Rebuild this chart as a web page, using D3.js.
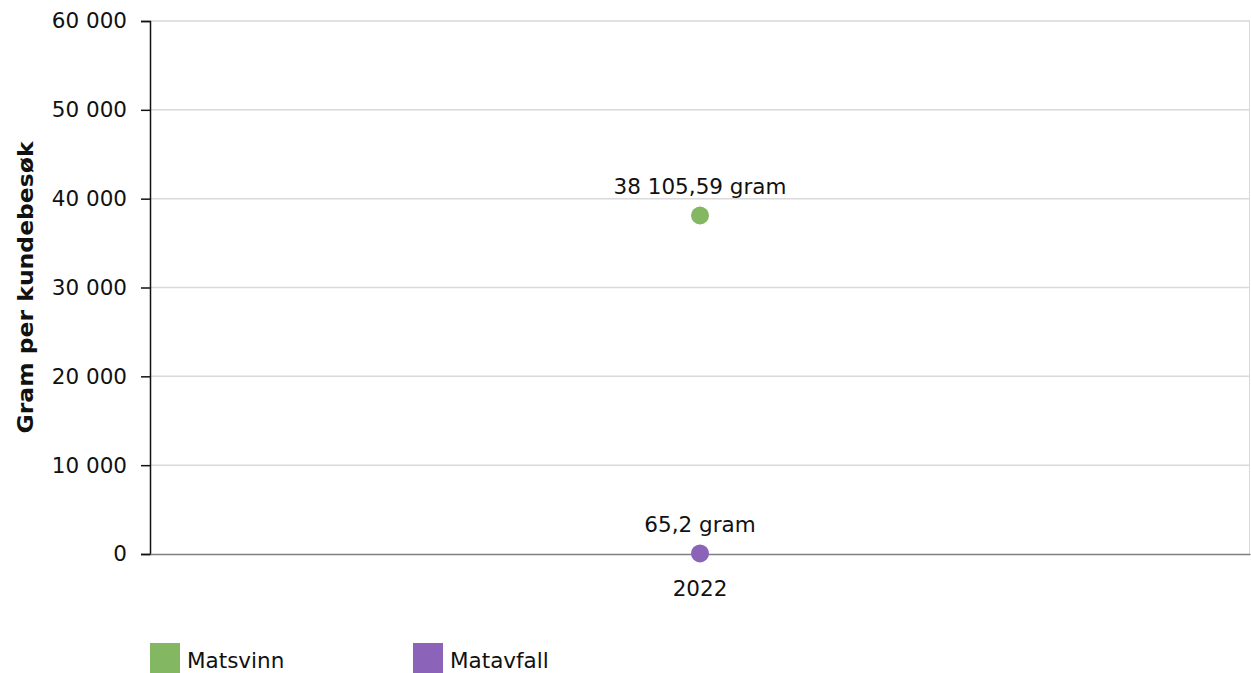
<!DOCTYPE html>
<html>
<head>
<meta charset="utf-8">
<script src="https://cdn.jsdelivr.net/npm/d3@7"></script>
<style>
  body { margin: 0; background: #fff; }
  text { font-family: "DejaVu Sans", Verdana, sans-serif; fill: #111; }
</style>
</head>
<body>
<svg id="canvas"></svg>
<script>
const years = ["2022"]
const seriesNames = ["Matsvinn", "Matavfall"]
const seriesColors = ["#84b761", "#8b63b8"]
const matsvinn = [38105.59]
const matavfall = [65.2]
const yTicks = [0, 10000, 20000, 30000, 40000, 50000, 60000]

const width = 1251
const height = 673
const plotLeft = 150
const plotRight = 1250
const plotTop = 21
const plotBottom = 554
const fontSize = "21.5px"

const canvas = d3.select("#canvas")
  .attr("width", width)
  .attr("height", height)

const xScale = d3.scaleBand()
  .domain(years)
  .range([plotLeft, plotRight])

const yScale = d3.scaleLinear()
  .domain([0, 60000])
  .range([plotBottom, plotTop])

const fmtTick = (v) => d3.format(",")(v).replace(/,/g, " ")
const fmtVal = (v) => {
  let parts = String(v).split(".")
  parts[0] = d3.format(",")(+parts[0]).replace(/,/g, " ")
  return parts.join(",") + " gram"
}

// grid
canvas.append("g")
  .selectAll("line")
  .data(yTicks.filter(d => d > 0))
  .enter()
  .append("line")
  .attr("x1", plotLeft)
  .attr("x2", plotRight)
  .attr("y1", d => yScale(d))
  .attr("y2", d => yScale(d))
  .attr("stroke", "#d9d9d9")
  .attr("stroke-width", 1.5)

// right border
canvas.append("line")
  .attr("x1", plotRight - 0.5).attr("x2", plotRight - 0.5)
  .attr("y1", plotTop).attr("y2", plotBottom)
  .attr("stroke", "#d9d9d9")
  .attr("stroke-width", 1)

// y axis
const yAxis = d3.axisLeft(yScale)
  .tickValues(yTicks)
  .tickFormat(fmtTick)
  .tickSize(9)
  .tickPadding(14)

const yG = canvas.append("g")
  .attr("transform", "translate(" + plotLeft + ", 0)")
  .call(yAxis)
yG.select(".domain").attr("stroke", "#111").attr("stroke-width", 1.5)
yG.selectAll(".tick line").attr("stroke", "#111").attr("stroke-width", 1.5)
yG.selectAll("text").style("font-size", fontSize).attr("fill", "#111")

// x axis
const xAxis = d3.axisBottom(xScale)
  .tickSize(0)
  .tickPadding(27)
const xG = canvas.append("g")
  .attr("transform", "translate(0, " + plotBottom + ")")
  .call(xAxis)
xG.select(".domain").attr("stroke", "#7f7f7f").attr("stroke-width", 1.5)
xG.selectAll("text").style("font-size", fontSize).attr("fill", "#111")

// y title
canvas.append("text")
  .attr("transform", "translate(33, " + ((plotTop + plotBottom) / 2) + ") rotate(-90)")
  .attr("text-anchor", "middle")
  .attr("textLength", 292)
  .attr("lengthAdjust", "spacingAndGlyphs")
  .style("font-size", "21px")
  .style("font-weight", "bold")
  .text("Gram per kundebesøk")

// points
const series = [matsvinn, matavfall]
series.forEach((vals, i) => {
  const g = canvas.append("g")
  g.selectAll("circle")
    .data(vals)
    .enter()
    .append("circle")
    .attr("cx", (d, j) => xScale(years[j]) + xScale.bandwidth() / 2)
    .attr("cy", d => yScale(d))
    .attr("r", 9)
    .attr("fill", seriesColors[i])
  g.selectAll("text")
    .data(vals)
    .enter()
    .append("text")
    .attr("x", (d, j) => xScale(years[j]) + xScale.bandwidth() / 2)
    .attr("y", d => yScale(d) - 21)
    .attr("text-anchor", "middle")
    .style("font-size", fontSize)
    .text(d => fmtVal(d))
})

// legend
const legendX = [150, 413]
const legend = canvas.append("g")
seriesNames.forEach((name, i) => {
  legend.append("rect")
    .attr("x", legendX[i])
    .attr("y", 643)
    .attr("width", 30)
    .attr("height", 30)
    .attr("fill", seriesColors[i])
  legend.append("text")
    .attr("x", legendX[i] + 37)
    .attr("y", 668)
    .style("font-size", fontSize)
    .text(name)
})
</script>
</body>
</html>
